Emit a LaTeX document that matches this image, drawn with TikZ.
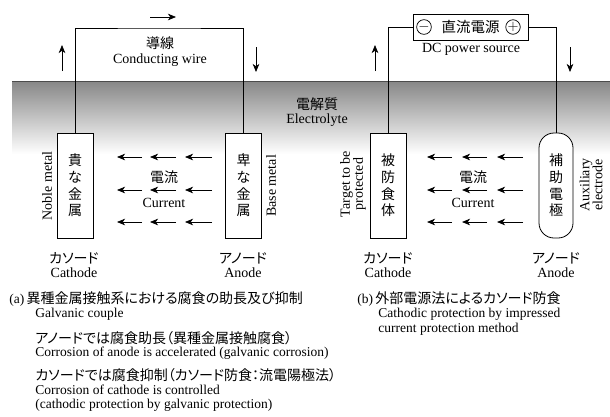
\documentclass[tikz,border=0pt]{standalone}
\usepackage{fontspec}
\setmainfont{Liberation Serif}
\newfontfamily\jp[RawFeature=+palt]{Noto Sans CJK JP}
\usetikzlibrary{arrows.meta}
\begin{document}
\begin{tikzpicture}[x=1pt,y=-1pt,line width=0.8pt,
  en/.style={font=\fontsize{14}{15}\selectfont,inner sep=0pt},
  ja/.style={font=\jp\fontsize{14}{15}\selectfont,inner sep=0pt},
  enr/.style={font=\fontsize{14}{13}\selectfont,inner sep=0pt,rotate=90,align=center},
  metal/.style={draw,minimum width=36pt,minimum height=105pt,inner sep=0pt,align=center,
     font=\jp\fontsize{14}{16.7}\selectfont,fill=white},
  cur/.style={-{Stealth[length=8pt,width=6.5pt,inset=2.2pt]}},
  captxt/.style={anchor=west,inner sep=0pt},
  cen/.style={font=\fontsize{13.5}{15}\selectfont},
  cja/.style={font=\jp\fontsize{14}{15}\selectfont},
  pole/.style={circle,draw,line width=0.7pt,minimum size=14.5pt,inner sep=0pt,font=\fontsize{14}{14}\selectfont}]
\useasboundingbox (0,0) rectangle (610,416);
% electrolyte
\shade[top color=black!47,middle color=black!15,bottom color=white] (12,81) rectangle (610,154);
\draw[black!70,line width=0.9pt] (12,81) -- (610,81);
\node[ja] (elj) at (317,104) {電解質};
\node[en] (ele) at (317,120) {Electrolyte};

% ---------- (a) galvanic couple ----------
\node[metal] (noble) at (75,185.5) {貴\\な\\金\\属};
\node[metal] (base) at (243.5,185.5) {卑\\な\\金\\属};
\coordinate (wtop) at (159,28);
\draw (noble.north) |- (wtop) -| (base.north);
\node[ja] (wirej) at (160,43) {導線};
\node[en] (wiree) at (160,60) {Conducting wire};
\coordinate (ua1) at (62,71); \coordinate (ua2) at (62,45);
\draw[cur] (ua1) -- (ua2);
\coordinate (ra1) at (150,17); \coordinate (ra2) at (176,17);
\draw[cur] (ra1) -- (ra2);
\coordinate (da1) at (256,47); \coordinate (da2) at (256,72);
\draw[cur] (da1) -- (da2);
\node[enr] (noblel) at (47,186) {Noble metal};
\node[enr] (basel) at (271,186) {Base metal};
\foreach \yy [count=\r] in {157,190,222}{
  \foreach \xa/\xb [count=\c] in {142/117,176/150,212/185}{
    \coordinate (la\r\c) at (\xa,\yy); \coordinate (lb\r\c) at (\xb,\yy);
    \draw[cur] (la\r\c) -- (lb\r\c);
  }
}
\node[ja] (curja) at (164,177) {電流};
\node[en] (curea) at (164,203) {Current};
\node[ja] (catja) at (74,258) {カソード};
\node[en] (catea) at (74,273) {Cathode};
\node[ja] (anja) at (243,258) {アノード};
\node[en] (anea) at (243,273) {Anode};

% ---------- (b) impressed current ----------
\node[metal] (target) at (388,185.5) {被\\防\\食\\体};
\node[metal,rounded corners=15pt,minimum width=34pt] (aux) at (556,185.5) {補\\助\\電\\極};
\node[draw,minimum width=115pt,minimum height=26pt,inner sep=0pt,fill=white,
  font=\jp\fontsize{14.5}{16}\selectfont] (dc) at (470.5,27) {直流電源};
\node[pole] (minus) at (424,27) {$-$};
\node[pole] (plus) at (513,27) {$+$};
\draw (target.north) |- (dc.west);
\draw (dc.east) -| (aux.north);
\node[en] (dce) at (471,49) {DC power source};
\coordinate (ub1) at (375,71); \coordinate (ub2) at (375,45);
\draw[cur] (ub1) -- (ub2);
\coordinate (db1) at (570,47); \coordinate (db2) at (570,72);
\draw[cur] (db1) -- (db2);
\node[enr] (targl) at (353,184) {Target to be\\protected};
\node[enr] (auxl) at (591,185) {Auxiliary\\electrode};
\foreach \yy [count=\r] in {157,190,222}{
  \foreach \xa/\xb [count=\c] in {452/427,487/462,523/497}{
    \coordinate (ra\r\c) at (\xa,\yy); \coordinate (rb\r\c) at (\xb,\yy);
    \draw[cur] (ra\r\c) -- (rb\r\c);
  }
}
\node[ja] (curjb) at (473,177) {電流};
\node[en] (cureb) at (473,203) {Current};
\node[ja] (catjb) at (388,258) {カソード};
\node[en] (cateb) at (388,273) {Cathode};
\node[ja] (anjb) at (556,258) {アノード};
\node[en] (aneb) at (556,273) {Anode};

% ---------- captions ----------
\node[captxt,cen] (capa) at (9,299) {(a)\,{\jp\fontsize{14}{15}\selectfont 異種金属接触系における腐食の助長及び抑制}};
\node[captxt,cen] (capa1) at (35,314) {Galvanic couple};
\node[captxt,cja] (capa2) at (35,338) {アノードでは腐食助長（異種金属接触腐食）};
\node[captxt,cen] (capa3) at (35,353) {Corrosion of anode is accelerated (galvanic corrosion)};
\node[captxt,cja] (capa4) at (35,375) {カソードでは腐食抑制（カソード防食：流電陽極法）};
\node[captxt,cen] (capa5) at (35,390) {Corrosion of cathode is controlled};
\node[captxt,cen] (capa6) at (35,405) {(cathodic protection by galvanic protection)};
\node[captxt,cen] (capb) at (357,299) {(b)\,{\jp\fontsize{14}{15}\selectfont 外部電源法によるカソード防食}};
\node[captxt,cen] (capb1) at (378,314) {Cathodic protection by impressed};
\node[captxt,cen] (capb2) at (378,329) {current protection method};
\end{tikzpicture}
\end{document}
